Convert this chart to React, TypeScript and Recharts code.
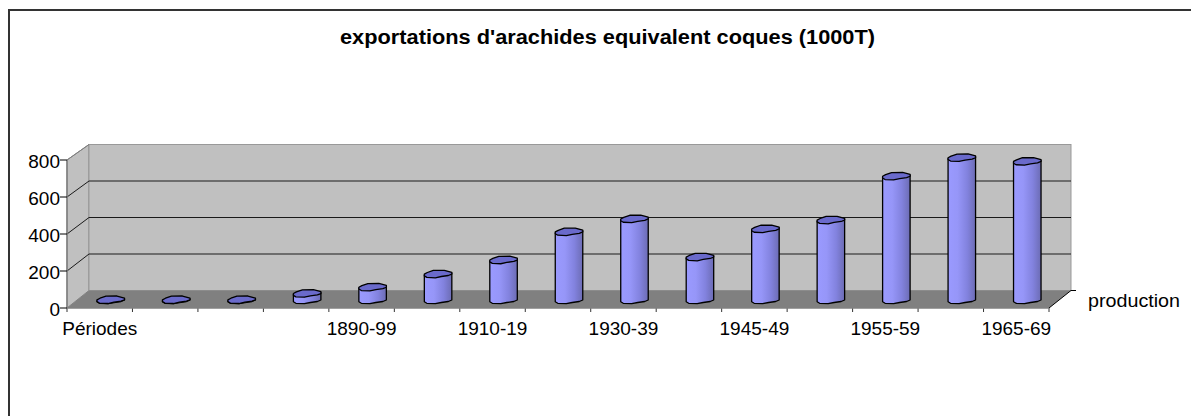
import React from 'react';
import { BarChart, Bar, XAxis, YAxis, usePlotArea } from 'recharts';

const categories = ['Périodes', '', '', '', '1890-99', '1900-09', '1910-19', '1920-29', '1930-39', '1940-44', '1945-49', '1950-54', '1955-59', '1960-64', '1965-69'];
const production = [1, 1, 1, 35, 69, 140, 216, 368, 438, 232, 384, 432, 669, 769, 749];
const yTicks = [0, 200, 400, 600, 800];

const TITLE = "exportations d'arachides equivalent coques (1000T)";
const SERIES_NAME = 'production';
const FONT = '"Liberation Sans", Arial, sans-serif';
const LABEL_SIZE = 19;
const WIDTH = 1191;
const HEIGHT = 416;

// depth of the fake 3D box, in px
const DEPTH_X = 22;
const BACK_BOTTOM = 290.5;
const BACK_HEIGHT = 146;

const tableData = categories.map((periode, i) => ({ periode, production: production[i] }));

function Frame() {
	const plot = usePlotArea();
	if (!plot) return null;
	const left = plot.x;
	const right = plot.x + plot.width;
	const top = plot.y;
	const bottom = plot.y + plot.height;
	const backY = (t: number) => BACK_BOTTOM - (t / 800) * BACK_HEIGHT;
	const frontY = (t: number) => bottom - (t / 800) * plot.height;
	const band = plot.width / categories.length;

	return (
		<g>
			<polygon
				points={`${left},${top} ${left + DEPTH_X},${backY(800)} ${left + DEPTH_X},${backY(0)} ${left},${bottom}`}
				fill='#c0c0c0'
				stroke='#808080'
				strokeWidth={1}
			/>
			<rect x={left + DEPTH_X} y={backY(800)} width={plot.width} height={BACK_HEIGHT} fill='#c0c0c0' stroke='#999' strokeWidth={1} />
			<polygon
				points={`${left},${bottom} ${left + DEPTH_X},${backY(0)} ${right + DEPTH_X},${backY(0)} ${right},${bottom}`}
				fill='#808080'
			/>
			{yTicks.slice(1, 4).map((t) => (
				<path
					key={t}
					d={`M${left},${frontY(t)} L${left + DEPTH_X},${backY(t)} L${right + DEPTH_X},${backY(t)}`}
					fill='none'
					stroke='#1a1a1a'
					strokeWidth={1}
				/>
			))}
			<path d={`M${left},${top} L${left + DEPTH_X},${backY(800)}`} stroke='#808080' />
			<path
				d={`M${right},${bottom} L${right + DEPTH_X},${backY(0)} L${right + DEPTH_X + 5},${backY(0)}`}
				fill='none'
				stroke='#000'
				strokeWidth={1}
			/>
			{categories.map((_, i) => (
				<line key={i} x1={left + i * band} x2={left + i * band} y1={bottom} y2={bottom + 4} stroke='#333' strokeWidth={1} />
			))}
			<line x1={right} x2={right} y1={bottom} y2={bottom + 4} stroke='#333' strokeWidth={1} />
		</g>
	);
}

function Cylinder(props: any) {
	const { x, y, width, height } = props;
	const dx = DEPTH_X / 2;
	const dy = -8;
	const l = x + dx;
	const s = width / 27.5;
	const t = y + dy;
	const b = y + height + dy;
	const px = (v: number) => l + v * s;
	const topFace = `M${px(0)},${t} L${px(3)},${t - 1.6} L${px(9)},${t - 3.7} L${px(20)},${t - 3.8} L${px(27.5)},${t - 1.8} L${px(27.5)},${t} L${px(24)},${t + 1.4} L${px(17)},${t + 2.4} L${px(11)},${t + 3.7} L${px(2.5)},${t + 3.3} L${px(0)},${t + 1.8} Z`;
	const body = `M${px(0)},${t + 1} L${px(0)},${b + 1.8} L${px(2.5)},${b + 3.3} L${px(11)},${b + 3.7} L${px(17)},${b + 2.5} L${px(24)},${b + 1.5} L${px(27.5)},${b} L${px(27.5)},${t - 1} Z`;
	return (
		<g strokeLinejoin='round'>
			<path d={body} fill='url(#cyl)' stroke='#000' strokeWidth={1.3} />
			<path d={topFace} fill='#6a6acb' stroke='#000' strokeWidth={1.3} />
		</g>
	);
}

export default function App() {
	return (
		<div style={{ position: 'absolute', left: 0, top: 0, width: WIDTH, height: HEIGHT, overflow: 'hidden', background: '#fff', fontFamily: FONT }}>
			<BarChart
				width={WIDTH}
				height={HEIGHT}
				data={tableData}
				margin={{ top: 160, right: 142, bottom: 78, left: 0 }}
				barCategoryGap={0}
			>
				<defs>
					<linearGradient id='cyl' x1='0' y1='0' x2='1' y2='0'>
						<stop offset='0%' stopColor='#9a9aff' />
						<stop offset='35%' stopColor='#9696f8' />
						<stop offset='70%' stopColor='#8282de' />
						<stop offset='100%' stopColor='#6c6cb4' />
					</linearGradient>
				</defs>
				<Frame />
				<line x1={9} x2={WIDTH} y1={10} y2={10} stroke='#333' strokeWidth={2} />
				<line x1={9} x2={9} y1={9} y2={HEIGHT} stroke='#333' strokeWidth={2} />
				<text x={607.5} y={44} textAnchor='middle' fontFamily={FONT} fontWeight={700} fontSize={20} fill='#000' textLength={535} lengthAdjust='spacingAndGlyphs'>
					{TITLE}
				</text>
				<text x={1088} y={307} fontFamily={FONT} fontSize={LABEL_SIZE} fill='#000' textLength={92} lengthAdjust='spacingAndGlyphs'>
					{SERIES_NAME}
				</text>
				<XAxis
					dataKey='periode'
					height={30}
					interval={1}
					axisLine={{ stroke: '#808080', strokeWidth: 1.5 }}
					tickLine={false}
					tickMargin={8}
					tick={{ fontSize: LABEL_SIZE, fontFamily: FONT, fill: '#000' }}
				/>
				<YAxis
					width={67}
					domain={[0, 800]}
					ticks={yTicks}
					interval={0}
					tickSize={7}
					tickMargin={0}
					axisLine={{ stroke: '#808080', strokeWidth: 1.5 }}
					tickLine={{ stroke: '#000' }}
					tick={{ fontSize: LABEL_SIZE, fontFamily: FONT, fill: '#000', dy: 1.5 }}
				/>
				<Bar dataKey='production' barSize={27.5} isAnimationActive={false} shape={<Cylinder />} />
			</BarChart>
		</div>
	);
}
